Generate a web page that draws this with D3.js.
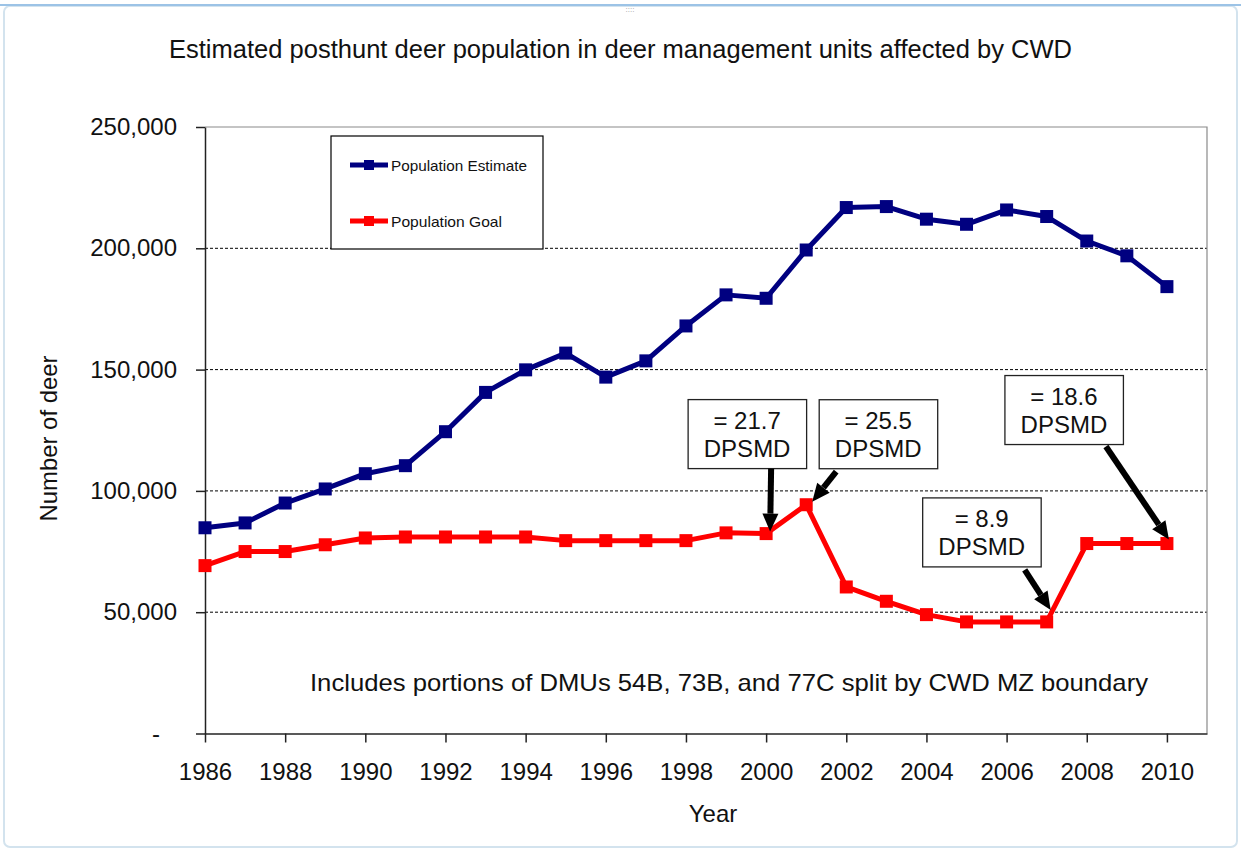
<!DOCTYPE html>
<html>
<head>
<meta charset="utf-8">
<script src="https://cdn.jsdelivr.net/npm/d3@7"></script>
<style>
  body { margin: 0; background: #fff; }
  svg text { font-family: Arial, "Liberation Sans", sans-serif; fill: #111; }
</style>
</head>
<body>
<div id="chart"></div>
<script>
// chart data
var years = [1986, 1987, 1988, 1989, 1990, 1991, 1992, 1993, 1994, 1995, 1996, 1997, 1998,
  1999, 2000, 2001, 2002, 2003, 2004, 2005, 2006, 2007, 2008, 2009, 2010];
var estimate = [84800, 86800, 95000, 100800, 107100, 110400, 124400, 140600, 149900, 156800,
  146900, 153600, 168000, 180800, 179400, 199300, 216800, 217200, 212000, 209900, 215800,
  213100, 203000, 196900, 184200];
var goal = [69200, 75000, 75000, 77800, 80600, 81000, 81000, 81000, 81000, 79500, 79500,
  79500, 79500, 82700, 82400, 94300, 60400, 54500, 49000, 46000, 46000, 46000, 78300,
  78300, 78300];
var seriesNames = ["Population Estimate", "Population Goal"];
var yTicks = [0, 50000, 100000, 150000, 200000, 250000];
var xTicks = [1986, 1988, 1990, 1992, 1994, 1996, 1998, 2000, 2002, 2004, 2006, 2008, 2010];
var noteYears = [2000, 2001, 2007, 2010];
var noteValues = ["= 21.7", "= 25.5", "= 8.9", "= 18.6"];
var noteUnit = "DPSMD";

// annotation layout, px relative to the pointed goal marker
var noteLayout = [
  {bx: -78, by: -134, tx: 5, ty: -65, px: 4, py: -2},
  {bx: 13, by: -105, tx: 30, ty: -33, px: 6, py: -3},
  {bx: -124, by: -124, tx: -22, ty: -52, px: 4, py: -12},
  {bx: -162, by: -168, tx: -61, ty: -97, px: 2, py: -4}
];

var W = 1241, H = 851;
var plotL = 205, plotR = 1207, plotT = 127, plotB = 733.5;

var svg = d3.select("#chart").append("svg")
  .attr("width", W).attr("height", H);

// window frame
svg.append("rect").attr("x", 4).attr("y", 6).attr("width", W - 8).attr("height", H - 10)
  .attr("rx", 6).attr("fill", "none").attr("stroke", "#d3e3ee").attr("stroke-width", 2);
svg.append("line").attr("x1", 0).attr("x2", W).attr("y1", 5).attr("y2", 5)
  .attr("stroke", "#9cc3e6").attr("stroke-width", 2);
svg.append("text").attr("x", 630).attr("y", 12).attr("text-anchor", "middle")
  .style("font-size", "8px").style("fill", "#999").text("::::");

var x = d3.scaleLinear().domain([1986, 2011]).range([plotL, plotR]);
var y = d3.scaleLinear().domain([0, 250000]).range([plotB, plotT]);

// title
svg.append("text").attr("x", 620.5).attr("y", 57.5).attr("text-anchor", "middle")
  .attr("textLength", 903).attr("lengthAdjust", "spacingAndGlyphs")
  .style("font-size", "25px")
  .text("Estimated posthunt deer population in deer management units affected by CWD");

// gridlines + plot border
svg.append("g").selectAll("line").data(yTicks.filter(function(d) { return d > 0 && d < 250000; }))
  .enter().append("line")
  .attr("x1", plotL).attr("x2", plotR)
  .attr("y1", function(d) { return y(d); }).attr("y2", function(d) { return y(d); })
  .attr("stroke", "#000").attr("stroke-width", 1).attr("stroke-dasharray", "3,2");
svg.append("path")
  .attr("d", "M" + plotL + "," + y(250000) + "H" + plotR + "V" + plotB)
  .attr("fill", "none").attr("stroke", "#8a8a8a").attr("stroke-width", 1.2);

// axes
var yAxis = svg.append("g").attr("transform", "translate(" + plotL + ",0)")
  .call(d3.axisLeft(y).tickValues(yTicks).tickSize(9).tickSizeOuter(0).tickPadding(19)
    .tickFormat(function(d) { return d === 0 ? "-" : d3.format(",")(d); }));
yAxis.selectAll(".tick text").style("font-size", "24px").style("font-family", "Arial, 'Liberation Sans', sans-serif")
  .filter(function(d) { return d === 0; }).attr("dx", "-17");

var xAxis = svg.append("g").attr("transform", "translate(0," + plotB + ")")
  .call(d3.axisBottom(x).tickValues(xTicks).tickSize(9).tickSizeOuter(0).tickPadding(20)
    .tickFormat(d3.format("d")));
xAxis.selectAll(".tick text").style("font-size", "24px").style("font-family", "Arial, 'Liberation Sans', sans-serif");
svg.selectAll(".domain, .tick line").attr("stroke", "#222").attr("stroke-width", 1.5);

svg.append("text").attr("x", 713).attr("y", 822).attr("text-anchor", "middle")
  .style("font-size", "24px").text("Year");
svg.append("text").attr("transform", "translate(57,438.5) rotate(-90)").attr("text-anchor", "middle")
  .attr("textLength", 166).attr("lengthAdjust", "spacingAndGlyphs")
  .style("font-size", "24px").text("Number of deer");

// footnote
svg.append("text").attr("x", 310).attr("y", 691)
  .attr("textLength", 838).attr("lengthAdjust", "spacingAndGlyphs")
  .style("font-size", "24px")
  .text("Includes portions of DMUs 54B, 73B, and 77C split by CWD MZ boundary");

// series
var colors = ["#000080", "#ff0000"];
var series = [estimate, goal];
var line = d3.line().x(function(d, i) { return x(years[i]); }).y(function(d) { return y(d); });

series.forEach(function(vals, k) {
  svg.append("path").datum(vals).attr("d", line)
    .attr("fill", "none").attr("stroke", colors[k]).attr("stroke-width", 5)
    .attr("stroke-linejoin", "round");
  svg.append("g").selectAll("rect").data(vals).enter().append("rect")
    .attr("x", function(d, i) { return x(years[i]) - 6.5; })
    .attr("y", function(d) { return y(d) - 6.5; })
    .attr("width", 13).attr("height", 13)
    .attr("fill", colors[k]);
});

// legend
var lg = svg.append("g");
lg.append("rect").attr("x", 331).attr("y", 136).attr("width", 212).attr("height", 113)
  .attr("fill", "#fff").attr("stroke", "#000").attr("stroke-width", 1.2);
seriesNames.forEach(function(name, k) {
  var ly = 165 + k * 56;
  lg.append("line").attr("x1", 350).attr("x2", 388).attr("y1", ly).attr("y2", ly)
    .attr("stroke", colors[k]).attr("stroke-width", 5);
  lg.append("rect").attr("x", 364).attr("y", ly - 5).attr("width", 10).attr("height", 10)
    .attr("fill", colors[k]);
  lg.append("text").attr("x", 391).attr("y", ly + 5.5)
    .attr("textLength", k === 0 ? 136 : 111).attr("lengthAdjust", "spacingAndGlyphs")
    .style("font-size", "15px").text(name);
});

// callouts
function arrow(g, x1, y1, x2, y2) {
  var dx = x2 - x1, dy = y2 - y1, len = Math.sqrt(dx * dx + dy * dy);
  var ux = dx / len, uy = dy / len, hl = 18, hw = 8;
  var bx = x2 - ux * hl, by = y2 - uy * hl;
  g.append("line").attr("x1", x1).attr("y1", y1).attr("x2", bx).attr("y2", by)
    .attr("stroke", "#000").attr("stroke-width", 6);
  g.append("polygon")
    .attr("points", [[x2, y2], [bx - uy * hw, by + ux * hw], [bx + uy * hw, by - ux * hw]]
      .map(function(p) { return p.join(","); }).join(" "))
    .attr("fill", "#000");
}

var notes = svg.append("g");
noteYears.forEach(function(yr, i) {
  var L = noteLayout[i];
  var cx = x(yr), cy = y(goal[years.indexOf(yr)]);
  var bx = cx + L.bx, by = cy + L.by;
  notes.append("rect").attr("x", bx).attr("y", by).attr("width", 118.5).attr("height", 69)
    .attr("fill", "#fff").attr("stroke", "#222").attr("stroke-width", 1.3);
  notes.append("text").attr("x", bx + 59).attr("y", by + 29).attr("text-anchor", "middle")
    .style("font-size", "24px").text(noteValues[i]);
  notes.append("text").attr("x", bx + 59).attr("y", by + 57).attr("text-anchor", "middle")
    .style("font-size", "24px").text(noteUnit);
  arrow(notes, cx + L.tx, cy + L.ty, cx + L.px, cy + L.py);
});
</script>
</body>
</html>
